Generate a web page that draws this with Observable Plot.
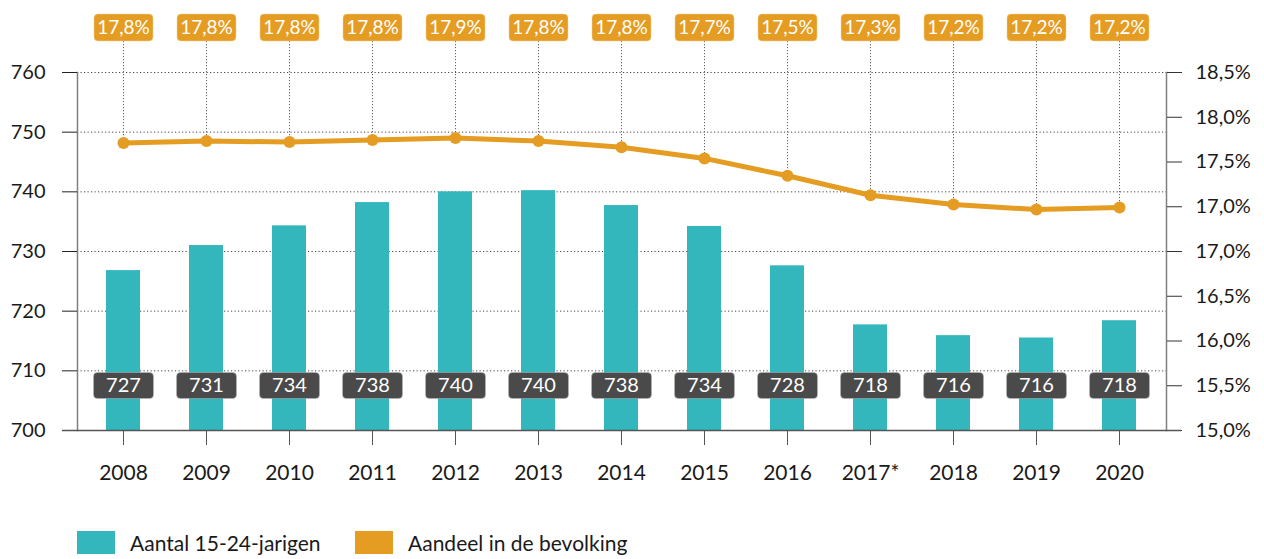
<!DOCTYPE html>
<html>
<head>
<meta charset="utf-8">
<script src="https://cdn.jsdelivr.net/npm/d3@7"></script>
<script src="https://cdn.jsdelivr.net/npm/@observablehq/plot@0.6"></script>
<style>
  html, body { margin: 0; padding: 0; background: #fff; }
  body { width: 1264px; height: 559px; overflow: hidden; font-family: Lato, "Open Sans", sans-serif; color: #1a1a1a; }
  #chart svg { display: block; }
  .legend { position: relative; height: 30px; margin-top: 15px; font-size: 21px; }
  .legend .sw { width: 38px; height: 23px; margin-right: 15px; flex: none; }
  .legend .item { position: absolute; top: 0; display: flex; align-items: center; white-space: nowrap; }
</style>
</head>
<body>
<div id="chart"></div>
<div class="legend">
  <div class="item" style="left:77px"><div class="sw" style="background:#33b7bc"></div><span>Aantal 15-24-jarigen</span></div>
  <div class="item" style="left:355px"><div class="sw" style="background:#e59c22"></div><span>Aandeel in de bevolking</span></div>
</div>
<script>
// ---- data ----
const years = ["2008","2009","2010","2011","2012","2013","2014","2015","2016","2017*","2018","2019","2020"];
const aantal = [726.8, 731.0, 734.3, 738.2, 740.0, 740.2, 737.7, 734.2, 727.6, 717.7, 715.9, 715.5, 718.4];
const aantalLabels = ["727","731","734","738","740","740","738","734","728","718","716","716","718"];
const aandeel = [17.81, 17.83, 17.82, 17.84, 17.86, 17.83, 17.77, 17.66, 17.49, 17.30, 17.21, 17.16, 17.18];
const aandeelLabels = ["17,8%","17,8%","17,8%","17,8%","17,9%","17,8%","17,8%","17,7%","17,5%","17,3%","17,2%","17,2%","17,2%"];
const leftTicks = [700, 710, 720, 730, 740, 750, 760];
const rightTickLabels = ["15,0%","15,5%","16,0%","16,5%","17,0%","17,0%","17,5%","18,0%","18,5%"];
const shareDomain = [15, 18.5];
const countDomain = [700, 760];

// secondary axis: map share onto the count scale
const toLeft = v => countDomain[0] + (v - shareDomain[0]) / (shareDomain[1] - shareDomain[0]) * (countDomain[1] - countDomain[0]);
const rightTickPos = rightTickLabels.map((_, i) => countDomain[0] + i * (countDomain[1] - countDomain[0]) / (rightTickLabels.length - 1));

const data = years.map((y, i) => ({
  year: y, aantal: aantal[i], aantalLabel: aantalLabels[i],
  aandeel: aandeel[i], aandeelY: toLeft(aandeel[i]), aandeelLabel: aandeelLabels[i]
}));

const TEAL = "#33b7bc", ORANGE = "#e59c22", DARK = "#4a4a4a";

function roundBox(w, h, r) {
  return {
    draw(ctx) {
      const x0 = -w / 2, y0 = -h / 2, x1 = w / 2, y1 = h / 2;
      ctx.moveTo(x0 + r, y0);
      ctx.lineTo(x1 - r, y0);
      ctx.arcTo(x1, y0, x1, y0 + r, r);
      ctx.lineTo(x1, y1 - r);
      ctx.arcTo(x1, y1, x1 - r, y1, r);
      ctx.lineTo(x0 + r, y1);
      ctx.arcTo(x0, y1, x0, y1 - r, r);
      ctx.lineTo(x0, y0 + r);
      ctx.arcTo(x0, y0, x0 + r, y0, r);
      ctx.closePath();
    }
  };
}

const chart = Plot.plot({
  width: 1264,
  height: 515,
  marginLeft: 77,
  marginRight: 98,
  marginTop: 72,
  marginBottom: 85,
  style: { fontFamily: "Lato, 'Open Sans', sans-serif", fontSize: "20px", color: "#1a1a1a", background: "#fff" },
  x: { type: "band", domain: years, paddingInner: 0.59, paddingOuter: 0.32, label: null },
  y: { domain: countDomain, label: null },
  marks: [
    Plot.gridY(leftTicks.slice(1), { stroke: "#333", strokeOpacity: 0.9, strokeDasharray: "1.2,2.3" }),
    Plot.barY(data, { x: "year", y1: () => countDomain[0], y2: "aantal", fill: TEAL }),
    Plot.ruleX(data, { x: "year", y1: () => countDomain[1], y2: "aandeelY", insetTop: -31, stroke: "#666", strokeDasharray: "1.2,1.8" }),
    Plot.frame({ anchor: "left", stroke: "#808080", strokeWidth: 1.5 }),
    Plot.frame({ anchor: "right", stroke: "#808080", strokeWidth: 1.5 }),
    Plot.axisY({ anchor: "left", ticks: leftTicks, tickSize: 15, tickPadding: 17, tickFormat: d => String(d), stroke: "#222", label: null }),
    Plot.axisY({ anchor: "right", ticks: rightTickPos, tickSize: 15, tickPadding: 14, tickFormat: (d, i) => rightTickLabels[i], stroke: "#333", label: null }),
    Plot.axisX({ tickSize: 15, tickPadding: 20, stroke: "#555", fontSize: 21, label: null }),
    Plot.ruleY([countDomain[0]], { stroke: "#555", strokeWidth: 1.5, insetLeft: -15, insetRight: -15 }),
    Plot.line(data, { x: "year", y: "aandeelY", stroke: ORANGE, strokeWidth: 5 }),
    Plot.dot(data, { x: "year", y: "aandeelY", r: 6, fill: ORANGE }),
    Plot.dot(data, { x: "year", frameAnchor: "bottom", dy: -45, symbol: roundBox(60, 26, 4), r: 10, fill: DARK, stroke: "#bbb", strokeWidth: 0.5 }),
    Plot.text(data, { x: "year", frameAnchor: "bottom", lineAnchor: "middle", dy: -45, text: "aantalLabel", fill: "#fff", fontSize: 20 }),
    Plot.dot(data, { x: "year", frameAnchor: "top", dy: -45, symbol: roundBox(59, 27, 4), r: 10, fill: ORANGE, stroke: "#f3d29a", strokeWidth: 0.5 }),
    Plot.text(data, { x: "year", frameAnchor: "top", lineAnchor: "middle", dy: -45, text: "aandeelLabel", fill: "#fff", fontSize: 19 })
  ]
});
document.getElementById("chart").appendChild(chart);
</script>
</body>
</html>
